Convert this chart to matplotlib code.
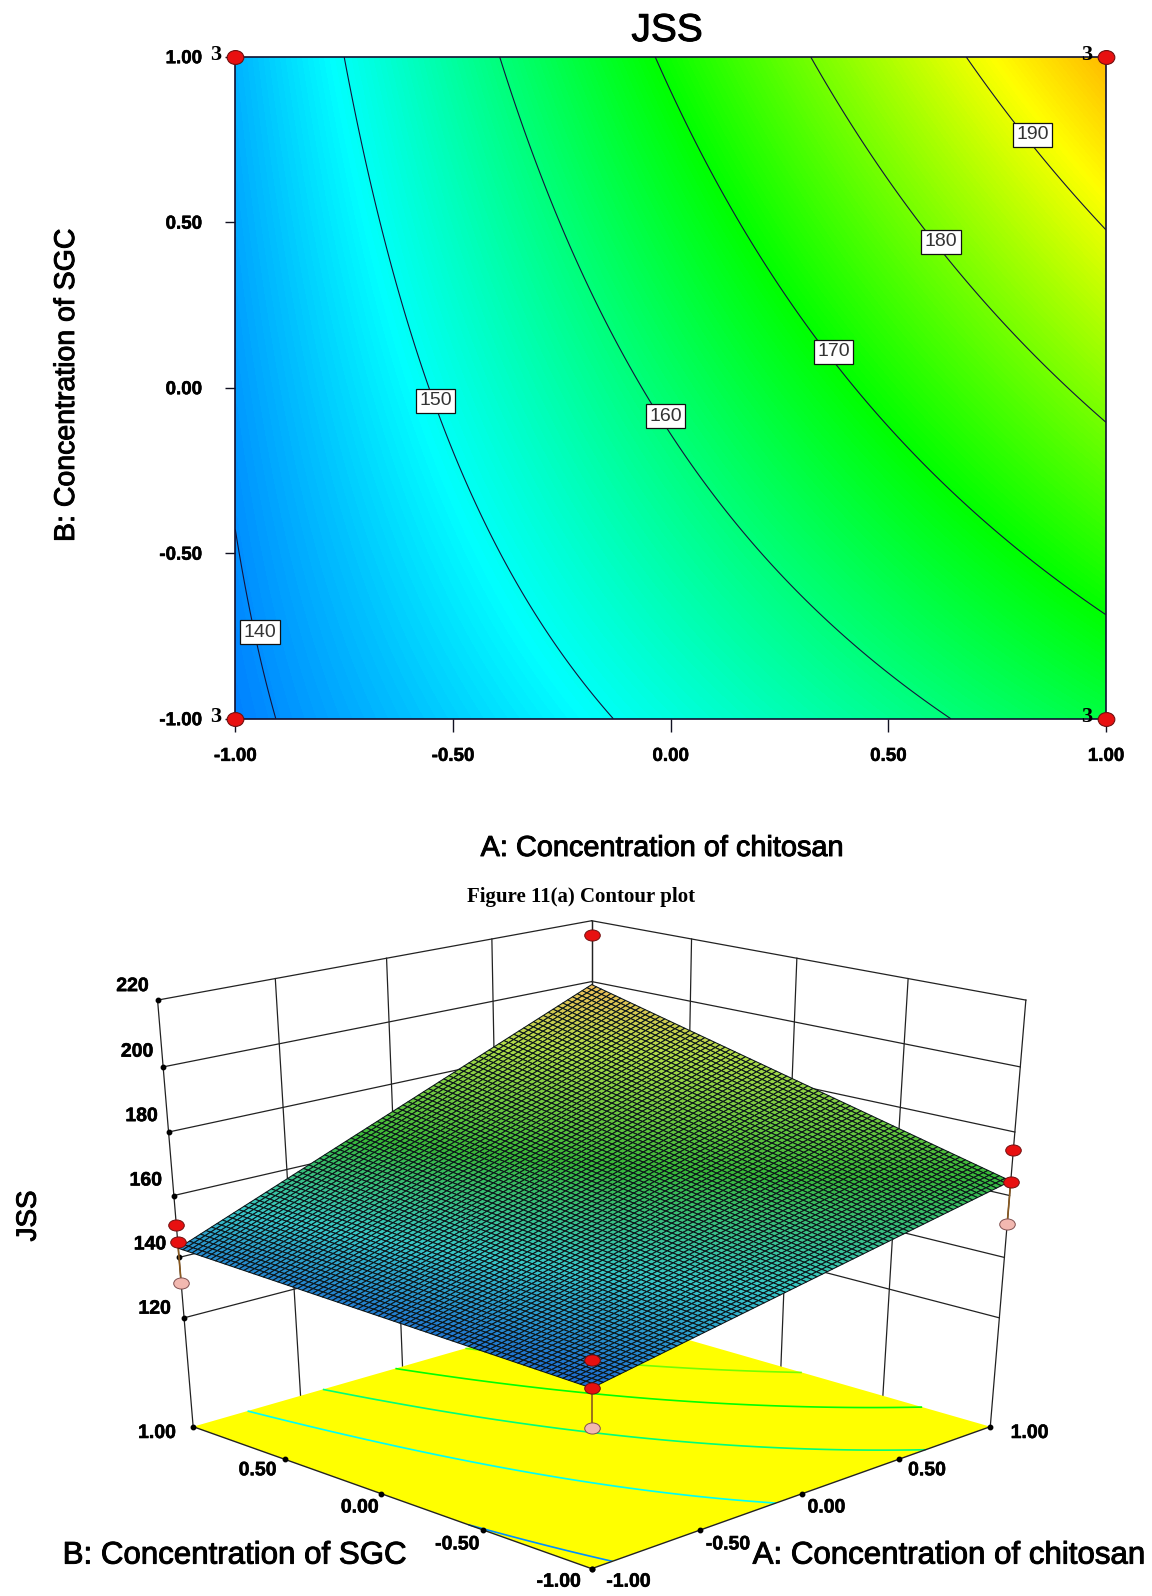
import numpy as np
import matplotlib
matplotlib.use("Agg")
import matplotlib.pyplot as plt
import matplotlib.patheffects as pe
from matplotlib.colors import LinearSegmentedColormap, Normalize
from matplotlib.markers import MarkerStyle
from matplotlib.transforms import Affine2D

# ---------- data ----------
A_TICKS = [-1.0, -0.5, 0.0, 0.5, 1.0]
B_TICKS = [-1.0, -0.5, 0.0, 0.5, 1.0]
TICK_LABELS = ["-1.00", "-0.50", "0.00", "0.50", "1.00"]
# JSS, rows = B (-1 .. 1), columns = A (-1 .. 1)
JSS_TABLE = [
    [138.80, 145.25, 151.70, 158.15, 164.60],
    [139.85, 148.19, 156.53, 164.86, 173.20],
    [140.90, 151.13, 161.35, 171.58, 181.80],
    [141.95, 154.06, 166.18, 178.29, 190.40],
    [143.00, 157.00, 171.00, 185.00, 199.00],
]
LEVELS = [140, 150, 160, 170, 180, 190]
LABEL_A = [-0.944, -0.54, -0.012, 0.374, 0.621, 0.831]
LABEL_B = [-0.739, -0.04, -0.086, 0.109, 0.441, 0.764]
CORNER_A = [-1, -1, 1, 1]
CORNER_B = [-1, 1, -1, 1]
CORNER_COUNT = ["3", "3", "3", "3"]

Z_TICKS = [120, 140, 160, 180, 200, 220]
Z_FLOOR = 82.69
Z_TOP = 220
# design points in the 3D view
PT_A = [-1, -1, -1, -1, -1, -1, 1, 1, 1, 1]
PT_B = [-1, -1, -1, 1, 1, 1, -1, -1, -1, 1]
PT_Z = [147.1, 138.8, 126.9, 150.4, 145.0, 131.6, 174.5, 164.4, 151.0, 215.2]
PT_RED = [True, True, False, True, True, False, True, True, False, True]

CMAP_VALUES = [128, 149, 170, 192, 219]
CMAP_COLORS = ["#0000ff", "#00ffff", "#00ff00", "#ffff00", "#ff0000"]
SURF_VALUES = [138, 150, 165, 185, 199]
SURF_COLORS = ["#1c66d0", "#38c8c8", "#38b838", "#b0dc48", "#f0bc58"]

W, H = 1152, 1596
plt.rcParams["font.family"] = ["Liberation Sans", "DejaVu Sans"]
fig = plt.figure(figsize=(W / 100, H / 100), dpi=100)
HEAVY = [pe.withStroke(linewidth=0.7, foreground="black")]
SLIGHT = [pe.withStroke(linewidth=0.4, foreground="black")]


def fx(px):
    return px / W


def fy(py):
    return 1 - py / H


def refine(table, a, b, n):
    """Fine mesh between the table values, straight along each axis."""
    af = np.linspace(a[0], a[-1], n)
    bf = np.linspace(b[0], b[-1], n)
    t = np.asarray(table)
    rows = np.array([np.interp(af, a, r) for r in t])
    fine = np.array([np.interp(bf, b, c) for c in rows.T]).T
    return af, bf, fine


def make_cmap(name, values, colors):
    lo, hi = values[0], values[-1]
    return (LinearSegmentedColormap.from_list(name, [((v - lo) / (hi - lo), c) for v, c in zip(values, colors)]),
            Normalize(lo, hi))


cmap, norm = make_cmap("rainbow_jss", CMAP_VALUES, CMAP_COLORS)
surf_cmap, surf_norm = make_cmap("surface_jss", SURF_VALUES, SURF_COLORS)

# ---------- top: contour plot ----------
L, R, T, B = 235.3, 1106.0, 56.7, 718.7
ax = fig.add_axes([fx(L), fy(B), (R - L) / W, (B - T) / H])
af, bf, zf = refine(JSS_TABLE, A_TICKS, B_TICKS, 201)
ax.imshow(zf, origin="lower", extent=(-1, 1, -1, 1), aspect="auto", cmap=cmap, norm=norm,
          interpolation="bilinear")
ax.contour(af, bf, zf, levels=LEVELS, colors="#14143c", linewidths=0.8)
for a, b, lev in zip(LABEL_A, LABEL_B, LEVELS):
    ax.text(a, b, str(lev), ha="center", va="center", fontsize=14, color="#333333",
            bbox=dict(boxstyle="square,pad=0.18", fc="white", ec="#111111", lw=0.9), zorder=5)
ax.set_xlim(-1, 1)
ax.set_ylim(-1, 1)
ax.set_xticks(A_TICKS, TICK_LABELS, fontsize=13.5, fontweight="bold", path_effects=SLIGHT)
ax.set_yticks(B_TICKS, TICK_LABELS, fontsize=13.5, fontweight="bold", path_effects=SLIGHT)
ax.tick_params(axis="x", length=9, width=1, pad=12, color="#111122")
ax.tick_params(axis="y", length=7, width=1, pad=17, color="#111122")
for s in ax.spines.values():
    s.set_color("#101030")
    s.set_linewidth(1.2)
dot = MarkerStyle("o", transform=Affine2D().scale(1.2, 1.0))
dot3 = MarkerStyle("o", transform=Affine2D().scale(1.4, 1.0))
ax.plot(CORNER_A, CORNER_B, ls="none", marker=dot, ms=10, mfc="#e81010", mec="#701010", mew=0.8,
        clip_on=False, zorder=6)
for a, b, c in zip(CORNER_A, CORNER_B, CORNER_COUNT):
    ax.annotate(c, (a, b), xytext=(-14, 1), textcoords="offset points", ha="center", va="center",
                fontsize=16, fontweight="bold", family="Liberation Serif", annotation_clip=False, zorder=6)
fig.text(fx(667), fy(31), "JSS", ha="center", va="center", fontsize=28, path_effects=HEAVY)
fig.text(fx(662), fy(848), "A: Concentration of chitosan", ha="center", va="center", fontsize=20.8,
         path_effects=HEAVY)
fig.text(fx(67), fy(385), "B: Concentration of SGC", ha="center", va="center", rotation=90, fontsize=20.5,
         path_effects=HEAVY)
fig.text(fx(581), fy(897), "Figure 11(a) Contour plot", ha="center", va="center", fontsize=15,
         fontweight="bold", family="Liberation Serif")

# ---------- bottom: 3D surface ----------
AX_L, AX_W, AX_BOTTOM, AX_H = 44.1, 1066.4, 1577.8, 691.9
ax3 = fig.add_axes([fx(AX_L), fy(AX_BOTTOM), AX_W / W, AX_H / H], projection="3d")
ax3.apply_aspect = lambda position=None: None
ax3.set_axis_off()
ax3.patch.set_alpha(0)
ax3.computed_zorder = False
ax3.view_init(elev=23.97, azim=-135)
ax3.set_proj_type("persp", focal_length=0.5922)
ax3.set_box_aspect((1, 1, 1.222))
ax3.set_xlim(-1, 1, view_margin=0)
ax3.set_ylim(-1, 1, view_margin=0)
ax3.set_zlim(Z_FLOOR, Z_TOP, view_margin=0)

wall = dict(color="#222222", lw=0.9, zorder=1)
for z in Z_TICKS:
    ax3.plot([-1, 1], [1, 1], [z, z], **wall)
    ax3.plot([1, 1], [-1, 1], [z, z], **wall)
for t in A_TICKS[1:]:
    ax3.plot([t, t], [1, 1], [Z_FLOOR, Z_TOP], **wall)
for t in B_TICKS[1:]:
    ax3.plot([1, 1], [t, t], [Z_FLOOR, Z_TOP], **wall)
ax3.plot([-1, -1], [1, 1], [Z_FLOOR, Z_TOP], **wall)
ax3.plot([1, 1], [-1, -1], [Z_FLOOR, Z_TOP], **wall)

# floor
gx, gy = np.meshgrid([-1, 1], [-1, 1])
ax3.plot_surface(gx, gy, np.full_like(gx, Z_FLOOR, dtype=float), color="#ffff00", shade=False,
                 linewidth=0, zorder=2)
am, bm, zm = refine(JSS_TABLE, A_TICKS, B_TICKS, 81)
AM, BM = np.meshgrid(am, bm)
ax3.contour(AM, BM, zm, levels=LEVELS, zdir="z", offset=Z_FLOOR, cmap=cmap, norm=norm,
            linewidths=1.2, zorder=3)
edge = dict(color="#222222", lw=1.0, zorder=3)
ax3.plot([-1, 1], [-1, -1], [Z_FLOOR, Z_FLOOR], **edge)
ax3.plot([-1, -1], [-1, 1], [Z_FLOOR, Z_FLOOR], **edge)
tk = dict(ls="none", marker="o", ms=3.2, color="black", zorder=3)
ax3.plot(A_TICKS, [-1] * len(A_TICKS), [Z_FLOOR] * len(A_TICKS), **tk)
ax3.plot([-1] * len(B_TICKS), B_TICKS, [Z_FLOOR] * len(B_TICKS), **tk)
ax3.plot([-1] * len(Z_TICKS), [1] * len(Z_TICKS), Z_TICKS, **tk)

# pale points and the stems below the surface
for a, b, z, red in zip(PT_A, PT_B, PT_Z, PT_RED):
    if not red:
        ax3.plot([a, a], [b, b], [z, z + 12], color="#8a5a20", lw=1.2, zorder=3.5)
        ax3.plot([a], [b], [z], ls="none", marker=dot3, ms=8, mfc="#f2b8b0", mec="#805050", mew=0.7, zorder=3.6)

# surface
ax3.plot_surface(AM, BM, zm, facecolors=surf_cmap(surf_norm(zm)), rstride=1, cstride=1, shade=False,
                 edgecolor="#0a1418", linewidth=0.75, zorder=4)

for a, b, z, red in zip(PT_A, PT_B, PT_Z, PT_RED):
    if red:
        ax3.plot([a], [b], [z], ls="none", marker=dot3, ms=8, mfc="#e81010", mec="#701010", mew=0.7, zorder=5)

tick_kw = dict(ha="center", va="center", fontsize=14, fontweight="bold", path_effects=SLIGHT)
Z_LABEL_X = [154.6, 150.0, 145.8, 141.6, 137.0, 132.4]
Z_LABEL_Y = [1309.2, 1244.9, 1181.0, 1116.6, 1052.2, 986.6]
for z, x, y in zip(Z_TICKS, Z_LABEL_X, Z_LABEL_Y):
    fig.text(fx(x), fy(y), str(z), **tick_kw)
B_LABEL_X = [558.7, 457.3, 359.7, 257.6, 157.0]
A_LABEL_X = [628.5, 728.0, 826.4, 927.0, 1029.6]
AB_LABEL_Y = [1582.2, 1544.9, 1508.0, 1470.8, 1433.5]
for lab, xb, xa, y in zip(TICK_LABELS, B_LABEL_X, A_LABEL_X, AB_LABEL_Y):
    fig.text(fx(xb), fy(y), lab, **tick_kw)
    fig.text(fx(xa), fy(y), lab, **tick_kw)
fig.text(fx(28.7), fy(1216), "JSS", ha="center", va="center", rotation=90, fontsize=20, path_effects=HEAVY)
fig.text(fx(234.6), fy(1555.6), "B: Concentration of SGC", ha="center", va="center", fontsize=22.5, path_effects=HEAVY)
fig.text(fx(949), fy(1555.6), "A: Concentration of chitosan", ha="center", va="center", fontsize=22.5, path_effects=HEAVY)

fig.savefig("out.png", dpi=100)
